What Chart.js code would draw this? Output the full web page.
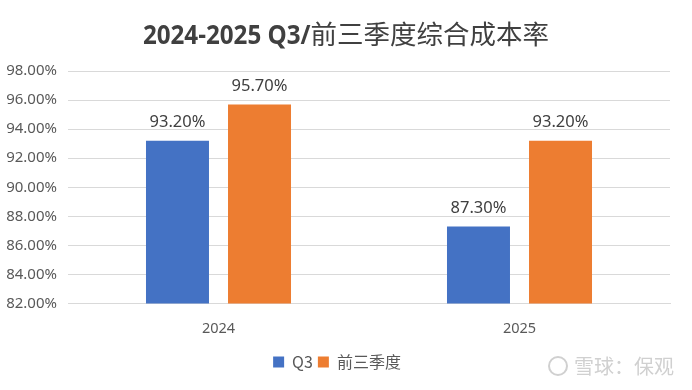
<!DOCTYPE html>
<html><head><meta charset="utf-8">
<script src="https://cdn.jsdelivr.net/npm/chart.js@4/dist/chart.umd.min.js"></script>
<style>html,body{margin:0;padding:0;background:#fff}#w{width:692px;height:390px}</style>
</head><body><div id="w"><canvas id="c"></canvas></div>
<script>
const categories = ['2024', '2025'];
const seriesNames = ['Q3', '前三季度'];
const q3Values = [93.2, 87.3];
const ytdValues = [95.7, 93.2];
const yTicks = [82, 84, 86, 88, 90, 92, 94, 96, 98];
const titleLatin = '2024-2025 Q3/';
const titleCjk = '前三季度综合成本率';
const watermark = '雪球：保观';

const labelPlugin = {
  id: 'valLabels',
  afterDatasetsDraw(chart) {
    const ctx = chart.ctx;
    ctx.save();
    ctx.font = '16.5px "Noto Sans", "Open Sans", sans-serif';
    ctx.fillStyle = '#404040';
    ctx.textAlign = 'center';
    ctx.textBaseline = 'bottom';
    chart.data.datasets.forEach((ds, i) => {
      chart.getDatasetMeta(i).data.forEach((bar, j) => {
        ctx.fillText(ds.data[j].toFixed(2) + '%', bar.x, bar.y - 10);
      });
    });
    ctx.restore();
  }
};

const titlePlugin = {
  id: 'mixTitle',
  afterDraw(chart) {
    const ctx = chart.ctx;
    ctx.save();
    ctx.fillStyle = '#404040';
    ctx.textBaseline = 'alphabetic';
    const sx = 0.93;
    ctx.font = 'bold 26px "Open Sans", sans-serif';
    const wL = ctx.measureText(titleLatin).width * sx;
    ctx.font = '26.5px "Noto Sans CJK SC", sans-serif';
    const wC = ctx.measureText(titleCjk).width;
    let x = (chart.width - wL - wC) / 2;
    const y = 44;
    ctx.save();
    ctx.translate(x, y);
    ctx.scale(sx, 1);
    ctx.font = 'bold 26px "Open Sans", sans-serif';
    ctx.fillText(titleLatin, 0, 0);
    ctx.restore();
    ctx.font = '26.5px "Noto Sans CJK SC", sans-serif';
    ctx.fillText(titleCjk, x + wL, y);
    // watermark bottom-right
    ctx.strokeStyle = '#d0d0d0';
    ctx.lineWidth = 2;
    ctx.beginPath();
    ctx.arc(558, 366, 9, 0, Math.PI * 2);
    ctx.stroke();
    ctx.font = '20px "Noto Sans CJK SC", sans-serif';
    ctx.textAlign = 'right';
    ctx.fillStyle = '#d0d0d0';
    ctx.fillText(watermark, 674, 374);
    ctx.restore();
  }
};

new Chart(document.getElementById('c'), {
  type: 'bar',
  data: {
    labels: categories,
    datasets: [
      { label: seriesNames[0], data: q3Values, backgroundColor: '#4472C4', categoryPercentage: 0.545, barPercentage: 0.768 },
      { label: seriesNames[1], data: ytdValues, backgroundColor: '#ED7D31', categoryPercentage: 0.545, barPercentage: 0.768 }
    ]
  },
  options: {
    responsive: true, maintainAspectRatio: false, animation: false,
    layout: { padding: { left: 4, right: 22, top: 71, bottom: 10 } },
    plugins: {
      title: { display: false },
      legend: { position: 'bottom', labels: { color: '#595959', boxWidth: 11, boxHeight: 11, padding: 5,
        font: { size: 16, family: '"Noto Sans CJK SC", sans-serif' } } },
      tooltip: { enabled: false }
    },
    scales: {
      x: { grid: { display: false }, border: { color: '#d9d9d9' },
        afterFit(s) { s.height += 2; },
        ticks: { color: '#595959', padding: 9, font: { size: 14.5, family: '"Noto Sans", sans-serif' } } },
      y: { min: 82, max: 98, border: { display: false }, grid: { color: '#d9d9d9', drawTicks: false },
        afterBuildTicks(s) { s.ticks = yTicks.map(v => ({ value: v })); },
        afterFit(s) { s.width = 64; },
        ticks: { color: '#595959', padding: 11, font: { size: 15, family: '"Noto Sans", sans-serif' },
          callback: v => v.toFixed(2) + '%' } }
    }
  },
  plugins: [labelPlugin, titlePlugin]
});
</script></body></html>
